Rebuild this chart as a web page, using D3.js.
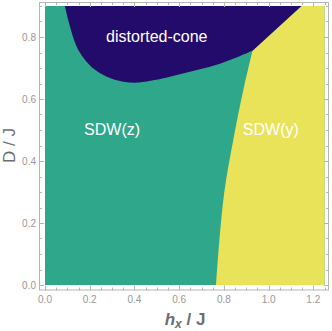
<!DOCTYPE html>
<meta charset="utf-8">
<head>
    <title>Phase diagram</title>
    <script src="https://d3js.org/d3.v7.min.js"></script>
</head>

<style>
body { margin: 0; background: #fff; }
text { font-family: "Liberation Sans", Arial, sans-serif; }
</style>

<body>

<svg></svg>

<script>

// phase boundaries, [h_x / J, D / J]
let coneBoundary = [
  [0.089, 0.900], [0.104, 0.855], [0.130, 0.790], [0.149, 0.758],
  [0.179, 0.726], [0.224, 0.694], [0.276, 0.672], [0.350, 0.656],
  [0.420, 0.653], [0.490, 0.661], [0.559, 0.672], [0.648, 0.688],
  [0.738, 0.704], [0.827, 0.726], [0.928, 0.756]
];
let coneYBoundary = [[0.928, 0.756], [1.147, 0.900]];
let zyBoundary = [
  [0.928, 0.756], [0.887, 0.629], [0.842, 0.468],
  [0.803, 0.306], [0.780, 0.145], [0.765, 0.000]
];

let phases = ["SDW(z)", "SDW(y)", "distorted-cone"];
let phaseLabelAt = [[0.30, 0.483], [1.01, 0.483], [0.50, 0.785]];
let colors = ["#2fa78a", "#e9e35a", "#230b6b"];

let hDomain = [0, 1.25];
let dDomain = [0, 0.9];
let xTicks = [0, 0.2, 0.4, 0.6, 0.8, 1.0, 1.2];
let yTicks = [0, 0.2, 0.4, 0.6, 0.8];

let width = 332, height = 331;

let svg = d3.select("svg")
    .attr("width", width)
    .attr("height", height);

// scales
let x = d3.scaleLinear().domain(hDomain).range([45, 324.5]);
let y = d3.scaleLinear().domain(dDomain).range([285, 6]);

// frame sits a little outside the data area
let fx0 = 39, fx1 = 329, fy0 = 2, fy1 = 290.5;

let plot = svg.append("g");

// background phase
plot.append("rect")
  .attr("x", x(hDomain[0]))
  .attr("y", y(dDomain[1]))
  .attr("width", x(hDomain[1]) - x(hDomain[0]))
  .attr("height", y(dDomain[0]) - y(dDomain[1]))
  .attr("fill", colors[0]);

let curve = d3.line()
  .x(d => x(d[0]))
  .y(d => y(d[1]))
  .curve(d3.curveCatmullRom);

// SDW(y) region
let yPath = curve(zyBoundary.slice().reverse()) +
  "L" + x(coneYBoundary[1][0]) + "," + y(coneYBoundary[1][1]) +
  "L" + x(hDomain[1]) + "," + y(dDomain[1]) +
  "L" + x(hDomain[1]) + "," + y(dDomain[0]) + "Z";
plot.append("path").attr("d", yPath).attr("fill", colors[1]);

// distorted-cone region
let conePath = curve(coneBoundary) +
  "L" + x(coneYBoundary[1][0]) + "," + y(coneYBoundary[1][1]) + "Z";
plot.append("path").attr("d", conePath).attr("fill", colors[2]);

// phase labels
plot.selectAll(".phase")
  .data(phases)
  .enter()
  .append("text")
  .attr("class", "phase")
  .attr("x", (d, i) => x(phaseLabelAt[i][0]))
  .attr("y", (d, i) => y(phaseLabelAt[i][1]))
  .attr("text-anchor", "middle")
  .attr("fill", "#fff")
  .attr("font-size", 16)
  .text(d => d);

// frame
let frameColor = "#b5b5b5";
svg.append("rect")
  .attr("x", fx0 + 0.5).attr("y", fy0 + 0.5)
  .attr("width", fx1 - fx0 - 1).attr("height", fy1 - fy0 - 1)
  .attr("fill", "none")
  .attr("stroke", frameColor);

let minorX = d3.range(0, 1.2501, 0.05);
let minorY = d3.range(0, 0.9001, 0.05);
let isMajor = v => Math.abs(v * 5 - Math.round(v * 5)) < 1e-6;

let ticks = svg.append("g").attr("stroke", frameColor).attr("stroke-width", 1);
minorX.forEach(v => {
  let len = isMajor(v) ? 5 : 3;
  let px = Math.round(x(v)) + 0.5;
  ticks.append("line").attr("x1", px).attr("x2", px)
    .attr("y1", fy1).attr("y2", fy1 - len);
  ticks.append("line").attr("x1", px).attr("x2", px)
    .attr("y1", fy0).attr("y2", fy0 + len);
});
minorY.forEach(v => {
  let len = isMajor(v) ? 5 : 3;
  let py = Math.round(y(v)) + 0.5;
  ticks.append("line").attr("y1", py).attr("y2", py)
    .attr("x1", fx0).attr("x2", fx0 + len);
  ticks.append("line").attr("y1", py).attr("y2", py)
    .attr("x1", fx1).attr("x2", fx1 - len);
});

// tick labels
svg.selectAll(".xl")
  .data(xTicks)
  .enter()
  .append("text")
  .attr("x", d => x(d))
  .attr("y", 303)
  .attr("text-anchor", "middle")
  .attr("font-size", 10)
  .attr("fill", "#999")
  .text(d => d.toFixed(1));

svg.selectAll(".yl")
  .data(yTicks)
  .enter()
  .append("text")
  .attr("x", 36)
  .attr("y", d => y(d) + 3.5)
  .attr("text-anchor", "end")
  .attr("font-size", 10)
  .attr("fill", "#999")
  .text(d => d.toFixed(1));

// axis titles
let xt = svg.append("text")
  .attr("x", 185)
  .attr("y", 325)
  .attr("text-anchor", "middle")
  .attr("font-size", 17)
  .attr("font-weight", "bold")
  .attr("fill", "#6e6e6e");
xt.append("tspan").attr("font-style", "italic").text("h");
xt.append("tspan").attr("font-style", "italic").attr("font-size", 12).attr("dy", 3).text("x");
xt.append("tspan").attr("dy", -3).text(" / J");

svg.append("text")
  .attr("transform", "translate(15,145.5) rotate(-90)")
  .attr("text-anchor", "middle")
  .attr("font-size", 17)
  .attr("fill", "#6e6e6e")
  .text("D / J");

</script>

</body>
